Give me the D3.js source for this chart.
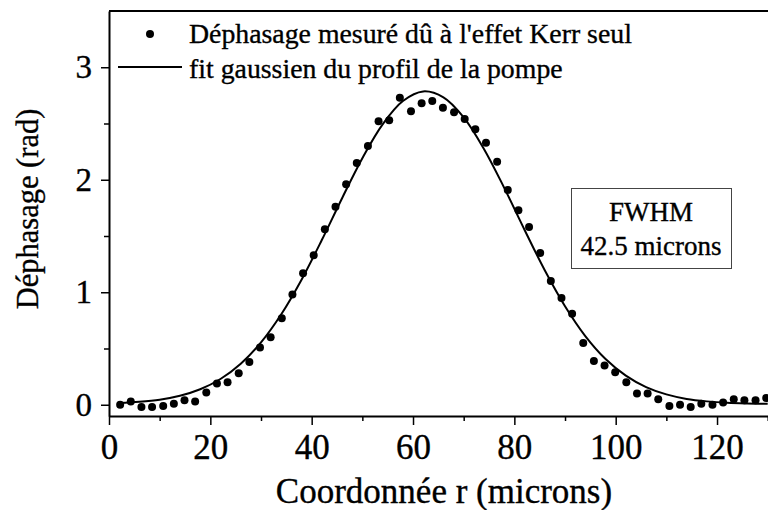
<!DOCTYPE html>
<html>
<head>
<meta charset="utf-8">
<script src="https://cdn.jsdelivr.net/npm/d3@7.9.0/dist/d3.min.js"></script>
<style>
  body { margin: 0; background: #fff; }
</style>
</head>
<body>
<svg id="chart" width="768" height="510"></svg>
<script>
// measured points (r in microns, phase in rad)
const measuredR = [2.2, 4.3, 6.4, 8.5, 10.7, 12.8, 14.9, 17.0, 19.2, 21.3,
  23.4, 25.6, 27.7, 29.8, 31.9, 34.1, 36.2, 38.3, 40.4, 42.6,
  44.7, 46.8, 48.9, 51.1, 53.2, 55.3, 57.4, 59.6, 61.7, 63.8,
  65.9, 68.1, 70.2, 72.3, 74.4, 76.6, 78.7, 80.8, 82.9, 85.1,
  87.2, 89.3, 91.4, 93.6, 95.7, 97.8, 99.9, 102.1, 104.2, 106.3,
  108.4, 110.6, 112.7, 114.8, 116.9, 119.1, 121.2, 123.3, 125.4, 127.6, 129.7];
const measuredPhase = [0.00, 0.03, -0.02, -0.02, -0.01, 0.01, 0.04, 0.03, 0.11, 0.19,
  0.20, 0.28, 0.38, 0.51, 0.60, 0.77, 0.98, 1.17, 1.33, 1.56,
  1.76, 1.96, 2.15, 2.30, 2.52, 2.53, 2.73, 2.61, 2.68, 2.70,
  2.64, 2.60, 2.54, 2.45, 2.33, 2.16, 1.91, 1.73, 1.58, 1.35,
  1.10, 0.95, 0.81, 0.55, 0.39, 0.35, 0.29, 0.20, 0.10, 0.10,
  0.05, -0.01, 0.00, -0.02, 0.01, 0.00, 0.02, 0.05, 0.04, 0.04, 0.06];

// gaussian fit curve
const fitR = [2, 6, 10, 14, 18, 22, 26, 30, 34, 38, 42, 46, 50, 54, 58, 62,
  66, 70, 74, 78, 82, 86, 90, 94, 98, 102, 106, 110, 114, 118, 122, 126, 130];
const fitPhase = [0.015, 0.026, 0.045, 0.080, 0.138, 0.229, 0.365, 0.555, 0.805, 1.112,
  1.464, 1.836, 2.192, 2.493, 2.700, 2.785, 2.733, 2.555, 2.274, 1.928,
  1.556, 1.196, 0.876, 0.611, 0.407, 0.259, 0.157, 0.092, 0.052, 0.030,
  0.017, 0.011, 0.008];

const xMajorTicks = [0, 20, 40, 60, 80, 100, 120];
const xMinorTicks = [10, 30, 50, 70, 90, 110, 130];
const yMajorTicks = [0, 1, 2, 3];
const yMinorTicks = [0.5, 1.5, 2.5];

const legendLabels = ["Déphasage mesuré dû à l'effet Kerr seul", "fit gaussien du profil de la pompe"];
const boxLines = ["FWHM", "42.5 microns"];

const FONT = "'Liberation Serif', 'Times New Roman', serif";

const svg = d3.select("#chart");
const margin = { top: 11, right: 0, bottom: 94, left: 109 };
const width = 768 - margin.left - margin.right;
const height = 510 - margin.top - margin.bottom;

const g = svg.append("g")
    .attr("transform", `translate(${margin.left},${margin.top})`);

const x = d3.scaleLinear().domain([0, 130]).range([0, width - 0.3]);
const y = d3.scaleLinear().domain([-0.1, 3.5]).range([height, 0]);

// small helper so every label gets the same serif look
function serif(sel, size) {
    return sel.style("font-family", FONT)
        .style("font-size", size + "px")
        .attr("fill", "#000")
        .attr("stroke", "#000")
        .attr("stroke-width", 0.35);
}

// minor ticks first, then major with labels
g.append("g")
    .attr("transform", `translate(0,${height})`)
    .call(d3.axisBottom(x).tickValues(xMinorTicks).tickSize(5).tickFormat(""))
    .call(a => a.select(".domain").remove())
    .selectAll("line").attr("stroke-width", 1.5);

const xAxis = g.append("g")
    .attr("transform", `translate(0,${height})`)
    .call(d3.axisBottom(x).tickValues(xMajorTicks).tickSize(9).tickPadding(9)
        .tickSizeOuter(0).tickFormat(d3.format("d")));
serif(xAxis.selectAll("text"), 35);

g.append("g")
    .call(d3.axisLeft(y).tickValues(yMinorTicks).tickSize(5).tickFormat(""))
    .call(a => a.select(".domain").remove())
    .selectAll("line").attr("stroke-width", 1.5);

const yAxis = g.append("g")
    .call(d3.axisLeft(y).tickValues(yMajorTicks).tickSize(8).tickPadding(9)
        .tickSizeOuter(0).tickFormat(d3.format("d")));
serif(yAxis.selectAll("text"), 33);

g.selectAll(".domain").attr("stroke-width", 2);
xAxis.selectAll("line").attr("stroke-width", 1.5);
yAxis.selectAll("line").attr("stroke-width", 1.5);

// top frame line
g.append("line")
    .attr("x1", 0).attr("x2", width + 5)
    .attr("y1", 0).attr("y2", 0)
    .attr("stroke", "#000")
    .attr("stroke-width", 2);

// fit line
const fitData = fitR.map((r, i) => ({ r: r, v: fitPhase[i] }));
const line = d3.line()
    .x(d => x(d.r))
    .y(d => y(d.v))
    .curve(d3.curveCatmullRom);

g.append("path")
    .datum(fitData)
    .attr("fill", "none")
    .attr("stroke", "#000")
    .attr("stroke-width", 2)
    .attr("d", line);

// measured dots
const pts = measuredR.map((r, i) => ({ r: r, v: measuredPhase[i] }));
g.selectAll(".pt")
    .data(pts)
    .enter()
    .append("circle")
    .attr("class", "pt")
    .attr("cx", d => x(d.r))
    .attr("cy", d => y(d.v))
    .attr("r", 4)
    .attr("fill", "#000");

// axis titles
serif(svg.append("text")
    .attr("x", 444)
    .attr("y", 503)
    .attr("text-anchor", "middle"), 35)
    .text("Coordonnée r (microns)");

serif(svg.append("text")
    .attr("transform", "translate(38,209) rotate(-90)")
    .attr("text-anchor", "middle"), 30.5)
    .text("Déphasage (rad)");

// legend
svg.append("circle")
    .attr("cx", 150).attr("cy", 34).attr("r", 4)
    .attr("fill", "#000");
svg.append("line")
    .attr("x1", 118).attr("x2", 182)
    .attr("y1", 67).attr("y2", 67)
    .attr("stroke", "#000").attr("stroke-width", 2);
legendLabels.forEach((t, i) => {
    serif(svg.append("text")
        .attr("x", 189)
        .attr("y", 43 + i * 34.5), 27.8)
        .text(t);
});

// FWHM box
svg.append("rect")
    .attr("x", 571.5).attr("y", 188.5)
    .attr("width", 160).attr("height", 80)
    .attr("fill", "#fff")
    .attr("stroke", "#444")
    .attr("stroke-width", 1);
boxLines.forEach((t, i) => {
    serif(svg.append("text")
        .attr("x", 651)
        .attr("y", 221 + i * 33.5)
        .attr("text-anchor", "middle"), 27)
        .text(t);
});
</script>
</body>
</html>
